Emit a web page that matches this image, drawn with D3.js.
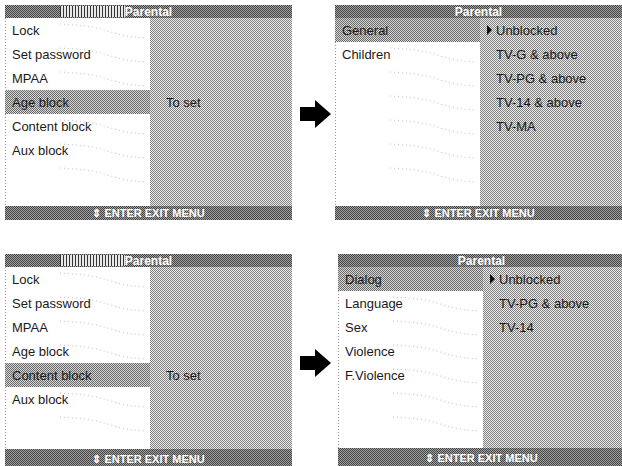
<!DOCTYPE html>
<html>
<head>
<meta charset="utf-8">
<script src="https://cdn.jsdelivr.net/npm/d3@7"></script>
<style>
body { margin: 0; background: #fff; }
text { font-family: 'Liberation Sans', Arial, sans-serif; }
</style>
</head>
<body>
<script>
// menu contents
const title = 'Parental'
const footer = '\u21D5 ENTER EXIT MENU'
const mainMenu = ['Lock', 'Set password', 'MPAA', 'Age block', 'Content block', 'Aux block']
const ageMenu = ['General', 'Children']
const ageOptions = ['Unblocked', 'TV-G & above', 'TV-PG & above', 'TV-14 & above', 'TV-MA']
const contentMenu = ['Dialog', 'Language', 'Sex', 'Violence', 'F.Violence']
const contentOptions = ['Unblocked', 'TV-PG & above', 'TV-14']
const toSet = ['To set']

const svgw = 622
const svgh = 466
const pw = 287
const titleH = 13
const rowH = 24
const listW = 145

const panels = [
	{x: 5, y: 5, bottom: 206, footH: 14, footY: 7, menu: mainMenu, sel: 3, side: toSet, deco: true},
	{x: 335, y: 5, bottom: 206, footH: 14, footY: 7, menu: ageMenu, sel: 0, side: ageOptions, mark: true},
	{x: 5, y: 254, bottom: 449, footH: 22, footY: 10, menu: mainMenu, sel: 4, side: toSet, deco: true},
	{x: 338, y: 254, bottom: 448, footH: 22, footY: 10.5, menu: contentMenu, sel: 0, side: contentOptions, mark: true}
]

const svg = d3.select('body').append('svg').attr('width', svgw).attr('height', svgh)
const defs = svg.append('defs')

// halftone style fills
function dots(id, light, dark) {
	const p = defs.append('pattern').attr('id', id)
		.attr('patternUnits', 'userSpaceOnUse').attr('width', 2).attr('height', 2)
	p.append('rect').attr('width', 2).attr('height', 2).attr('fill', light)
	p.append('rect').attr('width', 1).attr('height', 1).attr('fill', dark)
	p.append('rect').attr('x', 1).attr('y', 1).attr('width', 1).attr('height', 1).attr('fill', dark)
}
dots('bg', '#ededed', '#808080')
dots('hi', '#d6d6d6', '#6a6a6a')
dots('bar', '#a2a2a2', '#444')

const stripes = defs.append('pattern').attr('id', 'stripe')
	.attr('patternUnits', 'userSpaceOnUse').attr('width', 3).attr('height', 3)
stripes.append('rect').attr('width', 3).attr('height', 3).attr('fill', '#e8e8e8')
stripes.append('rect').attr('width', 1).attr('height', 3).attr('fill', '#333')

panels.forEach(p => {
	const g = svg.append('g')
	const yScale = d3.scaleBand()
		.domain(d3.range(8))
		.range([p.y + titleH, p.y + titleH + 8 * rowH])

	// grey body
	g.append('rect')
		.attr('x', p.x).attr('y', p.y)
		.attr('width', pw).attr('height', p.bottom + p.footH - p.y)
		.attr('fill', 'url(#bg)')

	// white list area
	g.append('rect')
		.attr('x', p.x).attr('y', p.y + titleH)
		.attr('width', listW).attr('height', p.bottom - p.y - titleH)
		.attr('fill', '#fff')

	g.append('line')
		.attr('x1', p.x + 0.5).attr('x2', p.x + 0.5)
		.attr('y1', p.y + titleH).attr('y2', p.bottom)
		.attr('stroke', '#999').attr('stroke-dasharray', '1,2')

	// faint scan dots across the list
	const wave = d3.line().curve(d3.curveBasis)
	d3.range(7).forEach(k => {
		const y0 = yScale(k) + 6
		g.append('path')
			.attr('d', wave([[p.x + 55, y0], [p.x + 90, y0 + 2], [p.x + 115, y0 + 12], [p.x + listW - 4, y0 + 14]]))
			.attr('fill', 'none')
			.attr('stroke', '#aaa')
			.attr('stroke-width', 0.8)
			.attr('stroke-dasharray', '1,3')
	})

	// highlighted row
	g.append('rect')
		.attr('x', p.x).attr('y', yScale(p.sel))
		.attr('width', listW).attr('height', yScale.bandwidth())
		.attr('fill', 'url(#hi)')

	// title bar
	g.append('rect')
		.attr('x', p.x).attr('y', p.y)
		.attr('width', pw).attr('height', titleH)
		.attr('fill', 'url(#bar)')
	if (p.deco) {
		g.append('rect')
			.attr('x', p.x + 55).attr('y', p.y + 1)
			.attr('width', 65).attr('height', titleH - 2)
			.attr('fill', 'url(#stripe)')
	}
	g.append('text')
		.attr('x', p.x + pw / 2).attr('y', p.y + titleH / 2)
		.attr('dy', '0.36em')
		.attr('text-anchor', 'middle')
		.attr('font-size', 12)
		.attr('font-weight', 'bold')
		.attr('fill', '#fff')
		.text(title)

	// footer bar
	g.append('rect')
		.attr('x', p.x).attr('y', p.bottom)
		.attr('width', pw).attr('height', p.footH)
		.attr('fill', 'url(#bar)')
	g.append('text')
		.attr('x', p.x + pw / 2).attr('y', p.bottom + p.footY)
		.attr('dy', '0.36em')
		.attr('text-anchor', 'middle')
		.attr('font-size', 11)
		.attr('font-weight', 'bold')
		.attr('fill', '#fff')
		.attr('font-family', 'DejaVu Sans Condensed, Liberation Sans Narrow, sans-serif')
		.text(footer)

	// menu items
	g.selectAll('text.item')
		.data(p.menu)
		.enter()
		.append('text')
		.attr('class', 'item')
		.attr('x', p.x + 7)
		.attr('y', (d, i) => yScale(i) + yScale.bandwidth() / 2)
		.attr('dy', '0.36em')
		.attr('font-size', 13)
		.attr('fill', '#1a1a1a')
		.text(d => d)

	// right column
	const start = p.mark ? 0 : p.sel
	g.selectAll('text.opt')
		.data(p.side)
		.enter()
		.append('text')
		.attr('class', 'opt')
		.attr('x', p.x + listW + 16)
		.attr('y', (d, i) => yScale(start + i) + yScale.bandwidth() / 2)
		.attr('dy', '0.36em')
		.attr('font-size', 13)
		.attr('fill', '#1a1a1a')
		.text(d => d)

	if (p.mark) {
		const cy = yScale(0) + yScale.bandwidth() / 2
		const mx = p.x + listW + 7
		g.append('path')
			.attr('d', `M${mx},${cy - 5}L${mx + 5},${cy}L${mx},${cy + 5}Z`)
			.attr('fill', '#111')
	}

	p.yScale = yScale
})

// arrows between the screens
;[0, 2].forEach(i => {
	const cy = panels[i].yScale(4)
	const x0 = panels[i].x + pw + 8
	svg.append('path')
		.attr('d', `M${x0},${cy - 7}H${x0 + 15}V${cy - 14}L${x0 + 31},${cy}L${x0 + 15},${cy + 14}V${cy + 7}H${x0}Z`)
		.attr('fill', '#000')
})
</script>
</body>
</html>
